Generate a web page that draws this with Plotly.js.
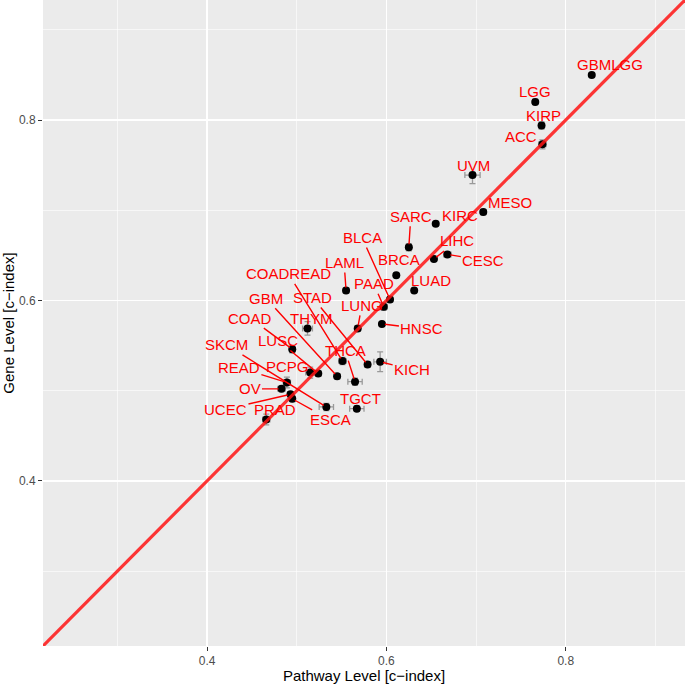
<!DOCTYPE html>
<html>
<head>
<meta charset="utf-8">
<script src="https://cdn.plot.ly/plotly-3.0.1.min.js"></script>
<style>html,body{margin:0;padding:0;background:#fff;}#chart{width:685px;height:684px;}</style>
</head>
<body>
<div id="chart"></div>
<script>
// ---- data ----
const cancers = ["GBMLGG","LGG","KIRP","ACC","UVM","MESO","KIRC","SARC","LIHC","CESC","BRCA","LUAD","LAML","BLCA","PAAD","LUNG","HNSC","THYM","COAD","COADREAD","STAD","KICH","GBM","LUSC","PCPG","THCA","TGCT","SKCM","READ","OV","UCEC","ESCA","PRAD"];
const pathwayLevel = [0.829,0.766,0.773,0.774,0.696,0.708,0.655,0.625,0.653,0.668,0.611,0.631,0.555,0.604,0.597,0.568,0.595,0.512,0.495,0.551,0.579,0.593,0.545,0.524,0.515,0.565,0.567,0.533,0.489,0.483,0.493,0.495,0.466];
const geneLevel    = [0.850,0.820,0.794,0.773,0.739,0.698,0.685,0.659,0.646,0.651,0.628,0.611,0.611,0.601,0.593,0.569,0.574,0.569,0.546,0.533,0.529,0.532,0.516,0.519,0.520,0.510,0.480,0.482,0.509,0.502,0.496,0.491,0.468];
const pathwayErr   = [0.002,0.002,0.003,0.004,0.0085,0.003,0.002,0.003,0.002,0.004,0.002,0.002,0.003,0.003,0.004,0.003,0.002,0.0055,0.003,0.004,0.003,0.007,0.003,0.003,0.005,0.008,0.008,0.008,0.004,0.004,0.003,0.003,0.004];
const geneErrPlus  = [0.002,0.003,0.004,0.005,0.003,0.003,0.002,0.004,0.002,0.003,0.002,0.002,0.003,0.003,0.004,0.003,0.002,0.0075,0.004,0.004,0.003,0.011,0.003,0.003,0.006,0.004,0.003,0.004,0.006,0.003,0.003,0.003,0.006];
const geneErrMinus = [0.002,0.003,0.004,0.005,0.0095,0.003,0.002,0.004,0.002,0.003,0.002,0.002,0.003,0.003,0.004,0.003,0.002,0.0075,0.004,0.004,0.003,0.011,0.003,0.003,0.006,0.004,0.003,0.004,0.006,0.003,0.003,0.003,0.006];
const identityLine = [0, 1];
const xTickVals = [0.4, 0.6, 0.8];
const xTickText = ["0.4", "0.6", "0.8"];
const yTickVals = [0.4, 0.6, 0.8];
const yTickText = ["0.4", "0.6", "0.8"];

// label placement (pixel offsets of the label centre from its point; seg = draw leader segment)
const labelPlace = {
  GBMLGG:[18,-10,0], LGG:[0,-10,0], KIRP:[2,-10,0], ACC:[-21,-8,0], UVM:[1,-10,0],
  MESO:[27,-10,0], KIRC:[24,-8,0], SARC:[2,-31,1], LIHC:[23,-18,1], CESC:[36,6,1],
  BRCA:[3,-16,0], LUAD:[17,-10,0], LAML:[-2,-28,1], BLCA:[-28,-62,1], PAAD:[-10,-23,1],
  LUNG:[4,-23,1], HNSC:[40,5,1], THYM:[4,-10,0], COAD:[-42,-31,1], COADREAD:[-54,-87,1],
  STAD:[-55,-67,1], KICH:[32,8,1], GBM:[-71,-78,1], LUSC:[-40,-33,1], PCPG:[-23,-6,0],
  THCA:[-10,-31,1], TGCT:[4,-10,0], SKCM:[-100,-62,1], READ:[-48,-15,1], OV:[-32,0,1],
  UCEC:[-65,15,1], ESCA:[38,21,1], PRAD:[9,-10,0]
};

const labelFont = {family: "Liberation Sans, Arial, sans-serif", size: 15, color: "#FF0000"};
const annotations = cancers.map((c, i) => {
  const p = labelPlace[c];
  const a = {x: pathwayLevel[i], y: geneLevel[i], xref: "x", yref: "y", text: c, font: labelFont};
  if (p[2]) {
    Object.assign(a, {showarrow: true, arrowhead: 0, arrowwidth: 1.4, arrowcolor: "#FF0000", ax: p[0], ay: p[1], standoff: 3});
  } else {
    Object.assign(a, {showarrow: false, xshift: p[0], yshift: -p[1]});
  }
  return a;
});

const traces = [
  {
    type: "scatter", mode: "markers", x: pathwayLevel, y: geneLevel, text: cancers,
    marker: {color: "#000000", size: 8},
    error_x: {type: "data", array: pathwayErr, color: "#999999", thickness: 1.3, width: 3},
    error_y: {type: "data", symmetric: false, array: geneErrPlus, arrayminus: geneErrMinus, color: "#999999", thickness: 1.3, width: 3},
    hoverinfo: "text", showlegend: false
  },
  {
    type: "scatter", mode: "lines", x: identityLine, y: identityLine,
    line: {color: "rgba(255,20,20,0.85)", width: 3.2}, hoverinfo: "skip", showlegend: false
  }
];

const axisCommon = {
  range: [0.217, 0.933], showline: false, zeroline: false,
  showgrid: true, gridcolor: "#FFFFFF", gridwidth: 1.4,
  minor: {dtick: 0.1, tick0: 0, showgrid: true, gridcolor: "#FFFFFF", gridwidth: 0.6, ticks: ""},
  ticks: "outside", ticklen: 4, tickwidth: 1, tickcolor: "#333333",
  tickfont: {family: "Liberation Sans, Arial, sans-serif", size: 12, color: "#4D4D4D"},
  automargin: false, fixedrange: true
};

const layout = {
  width: 685, height: 684,
  margin: {l: 43, r: 0, t: 0, b: 38},
  paper_bgcolor: "#FFFFFF", plot_bgcolor: "#EBEBEB",
  xaxis: Object.assign({}, axisCommon, {
    tickmode: "array", tickvals: xTickVals, ticktext: xTickText,
    title: {text: "Pathway Level [c\u2212index]", font: {family: "Liberation Sans, Arial, sans-serif", size: 15, color: "#000"}, standoff: 3}
  }),
  yaxis: Object.assign({}, axisCommon, {
    tickmode: "array", tickvals: yTickVals, ticktext: yTickText,
    title: {text: "Gene Level [c\u2212index]", font: {family: "Liberation Sans, Arial, sans-serif", size: 15, color: "#000"}, standoff: 3}
  }),
  annotations: annotations,
  showlegend: false
};

Plotly.newPlot("chart", traces, layout, {displayModeBar: false, staticPlot: true});
</script>
</body>
</html>
